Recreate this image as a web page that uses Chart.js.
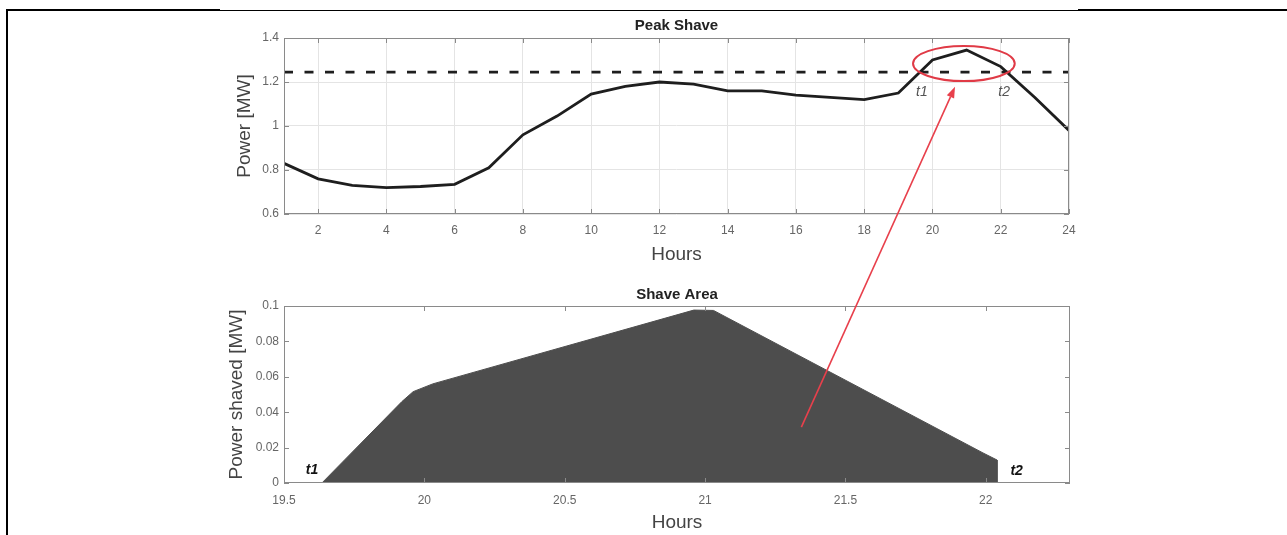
<!DOCTYPE html>
<html>
<head>
<meta charset="utf-8">
<script src="https://cdn.jsdelivr.net/npm/chart.js@4.4.0/dist/chart.umd.min.js"></script>
<style>
html, body { margin: 0; padding: 0; background: #fff; }
#wrap { position: relative; width: 1287px; height: 535px; overflow: hidden; }
#wrap canvas { position: absolute; left: 0; }
#topChart { top: 0; }
#botChart { top: 270px; }
.frame { position: absolute; background: #000; }
#ann { position: absolute; left: 0; top: 0; }
</style>
</head>
<body>
<div id="wrap">
  <div class="frame" style="left:6px;top:9px;width:2px;height:526px"></div>
  <div class="frame" style="left:6px;top:9px;width:214px;height:2px"></div>
  <div class="frame" style="left:220px;top:10px;width:858px;height:1px"></div>
  <div class="frame" style="left:1078px;top:9px;width:209px;height:2px"></div>
  <canvas id="topChart" width="1287" height="268"></canvas>
  <canvas id="botChart" width="1287" height="265"></canvas>
  <svg id="ann" width="1287" height="535"></svg>
</div>
<script>
// 시간대별 전력 (Peak Shave)
const hours = [1, 2, 3, 4, 5, 6, 7, 8, 9, 10, 11, 12, 13, 14, 15, 16, 17, 18, 19, 20, 21, 22, 23, 24];
const power = [0.83, 0.76, 0.73, 0.72, 0.725, 0.735, 0.81, 0.96, 1.045, 1.145, 1.18, 1.2,
               1.19, 1.16, 1.16, 1.14, 1.13, 1.12, 1.15, 1.3, 1.345, 1.27, 1.13, 0.98];
const threshold = 1.245;
const hourTicks = [2, 4, 6, 8, 10, 12, 14, 16, 18, 20, 22, 24];
const powerTicks = [0.6, 0.8, 1, 1.2, 1.4];

// 깎인 전력 (Shave Area)
const shaveHours = [19.635, 19.92, 19.96, 20.03, 20.96, 21.03, 21.99, 22.04, 22.04];
const shaved = [0, 0.046, 0.0516, 0.056, 0.0977, 0.0975, 0.017, 0.013, 0];
const shaveHourTicks = [19.5, 20, 20.5, 21, 21.5, 22];
const shavedTicks = [0, 0.02, 0.04, 0.06, 0.08, 0.1];

// 주석 위치 (데이터 좌표)
const topNotes = [['t1', 19.69, 1.155], ['t2', 22.1, 1.155]];
const botNotes = [['t1', 19.6, 0.0075], ['t2', 22.11, 0.0068]];
const ringAt = [20.92, 1.284, 1.49, 0.08];   // x, y, rx, ry
const arrowFrom = [21.343, 0.0316];          // 아래 차트
const arrowTo = [20.66, 1.178];              // 위 차트

Chart.defaults.font.family = '"Liberation Sans", Arial, sans-serif';
Chart.defaults.color = '#666';

// MATLAB 스타일 박스, 안쪽 눈금, 제목, 글자
function axesBox(title, titleGap, notes, noteFont, noteColor) {
  return {
    id: 'axesBox',
    afterDatasetsDraw(chart) {
      const { ctx, chartArea: a, scales: { x, y } } = chart;
      ctx.save();
      ctx.strokeStyle = '#8a8a8a';
      ctx.lineWidth = 1;
      ctx.strokeRect(a.left + 0.5, a.top + 0.5, a.width - 1, a.height - 1);
      ctx.beginPath();
      for (const t of x.ticks) {
        const px = Math.round(x.getPixelForValue(t.value)) + 0.5;
        ctx.moveTo(px, a.bottom); ctx.lineTo(px, a.bottom - 5);
        ctx.moveTo(px, a.top); ctx.lineTo(px, a.top + 5);
      }
      for (const t of y.ticks) {
        const py = Math.round(y.getPixelForValue(t.value)) + 0.5;
        ctx.moveTo(a.left, py); ctx.lineTo(a.left + 5, py);
        ctx.moveTo(a.right, py); ctx.lineTo(a.right - 5, py);
      }
      ctx.stroke();

      ctx.fillStyle = '#222';
      ctx.font = 'bold 15px "Liberation Sans", Arial, sans-serif';
      ctx.textAlign = 'center';
      ctx.textBaseline = 'middle';
      ctx.fillText(title, (a.left + a.right) / 2, a.top - titleGap);

      ctx.font = noteFont;
      ctx.fillStyle = noteColor;
      for (const n of notes) {
        ctx.fillText(n[0], x.getPixelForValue(n[1]), y.getPixelForValue(n[2]));
      }
      ctx.restore();
    }
  };
}

function fixedTicks(list) {
  return s => { s.ticks = list.map(v => ({ value: v })); };
}
// 1.0 -> 1, 0.10 -> 0.1
const plainLabel = v => String(+Number(v).toFixed(4));

const tickFont = { size: 12 };
const axisTitleFont = { size: 19 };

/* 위 차트 */
const topChart = new Chart(document.getElementById('topChart'), {
  type: 'line',
  data: {
    datasets: [{
      data: hours.map((h, i) => ({ x: h, y: power[i] })),
      borderColor: '#1e1e1e',
      borderWidth: 2.8,
      pointRadius: 0,
      tension: 0
    }, {
      data: [{ x: hours[0], y: threshold }, { x: hours[hours.length - 1], y: threshold }],
      borderColor: '#1e1e1e',
      borderWidth: 2.8,
      borderDash: [9, 11.5],
      pointRadius: 0
    }]
  },
  options: {
    responsive: false,
    animation: false,
    layout: { padding: { left: 200, right: 218, top: 38, bottom: 0 } },
    plugins: { legend: { display: false }, tooltip: { enabled: false } },
    scales: {
      x: {
        type: 'linear', min: 1, max: 24,
        afterBuildTicks: fixedTicks(hourTicks),
        afterFit: s => { s.height = 54; },
        grid: { color: '#e4e4e4', drawTicks: false },
        border: { display: false },
        ticks: { font: tickFont, padding: 9, color: '#666', callback: plainLabel },
        title: { display: true, text: 'Hours', font: axisTitleFont, color: '#444', padding: { top: 0, bottom: 1.6 } }
      },
      y: {
        type: 'linear', min: 0.6, max: 1.4,
        afterBuildTicks: fixedTicks(powerTicks),
        afterFit: s => { s.width = 84; },
        grid: { color: '#e4e4e4', drawTicks: false },
        border: { display: false },
        ticks: { font: tickFont, padding: 5, color: '#666', callback: plainLabel },
        title: { display: true, text: 'Power [MW]', font: axisTitleFont, color: '#444', padding: { top: 33.6, bottom: 0 } }
      }
    }
  },
  plugins: [axesBox('Peak Shave', 12.5, topNotes, 'italic 14px "Liberation Sans", Arial, sans-serif', '#555')]
});

/* 아래 차트 */
const botChart = new Chart(document.getElementById('botChart'), {
  type: 'line',
  data: {
    datasets: [{
      data: shaveHours.map((h, i) => ({ x: h, y: shaved[i] })),
      borderColor: '#4d4d4d',
      backgroundColor: '#4d4d4d',
      borderWidth: 1,
      fill: 'origin',
      pointRadius: 0,
      tension: 0
    }]
  },
  options: {
    responsive: false,
    animation: false,
    layout: { padding: { left: 200, right: 217, top: 36, bottom: 0 } },
    plugins: { legend: { display: false }, tooltip: { enabled: false } },
    scales: {
      x: {
        type: 'linear', min: 19.5, max: 22.3,
        afterBuildTicks: fixedTicks(shaveHourTicks),
        afterFit: s => { s.height = 52; },
        grid: { display: false, drawTicks: false },
        border: { display: false },
        ticks: { font: tickFont, padding: 10, color: '#666', callback: plainLabel },
        title: { display: true, text: 'Hours', font: axisTitleFont, color: '#444', padding: { top: 0, bottom: 1.1 } }
      },
      y: {
        type: 'linear', min: 0, max: 0.1,
        afterBuildTicks: fixedTicks(shavedTicks),
        afterFit: s => { s.width = 84; },
        grid: { display: false, drawTicks: false },
        border: { display: false },
        ticks: { font: tickFont, padding: 5, color: '#666', callback: plainLabel },
        title: { display: true, text: 'Power shaved [MW]', font: axisTitleFont, color: '#444', padding: { top: 25.6, bottom: 0 } }
      }
    }
  },
  plugins: [axesBox('Shave Area', 11.5, botNotes, 'bold italic 14px "Liberation Sans", Arial, sans-serif', '#111')]
});

/* 빨간 타원과 화살표 */
const svg = document.getElementById('ann');
const NS = 'http://www.w3.org/2000/svg';
const botTop = 270;
const tx = topChart.scales.x, ty = topChart.scales.y;
const bx = botChart.scales.x, by = botChart.scales.y;

const ring = document.createElementNS(NS, 'ellipse');
const cx = tx.getPixelForValue(ringAt[0]);
const cy = ty.getPixelForValue(ringAt[1]);
ring.setAttribute('cx', cx);
ring.setAttribute('cy', cy);
ring.setAttribute('rx', tx.getPixelForValue(ringAt[0] + ringAt[2]) - cx);
ring.setAttribute('ry', cy - ty.getPixelForValue(ringAt[1] + ringAt[3]));
ring.setAttribute('fill', 'none');
ring.setAttribute('stroke', '#e03a46');
ring.setAttribute('stroke-width', '2');
svg.appendChild(ring);

const x1 = bx.getPixelForValue(arrowFrom[0]);
const y1 = by.getPixelForValue(arrowFrom[1]) + botTop;
const x2 = tx.getPixelForValue(arrowTo[0]);
const y2 = ty.getPixelForValue(arrowTo[1]);
const ang = Math.atan2(y2 - y1, x2 - x1);
const headLen = 11, headW = 4;
const hx = x2 - headLen * Math.cos(ang), hy = y2 - headLen * Math.sin(ang);

const line = document.createElementNS(NS, 'line');
line.setAttribute('x1', x1); line.setAttribute('y1', y1);
line.setAttribute('x2', hx); line.setAttribute('y2', hy);
line.setAttribute('stroke', '#e8404c');
line.setAttribute('stroke-width', '1.6');
svg.appendChild(line);

const head = document.createElementNS(NS, 'polygon');
const px = -Math.sin(ang) * headW, py = Math.cos(ang) * headW;
head.setAttribute('points', `${x2},${y2} ${hx + px},${hy + py} ${hx - px},${hy - py}`);
head.setAttribute('fill', '#e8404c');
svg.appendChild(head);
</script>
</body>
</html>
